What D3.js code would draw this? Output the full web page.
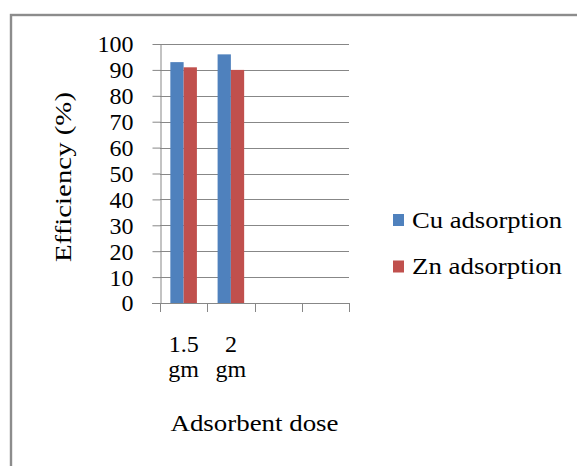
<!DOCTYPE html>
<html>
<head>
<meta charset="utf-8">
<script src="https://cdn.jsdelivr.net/npm/d3@7"></script>
</head>
<body style="margin:0">
<svg id="chart" width="577" height="466" font-family="Liberation Serif, Times New Roman, serif"></svg>
<script>
// categories (two empty slots follow the used ones)
var categories = ["1.5 gm", "2 gm", "", ""]
var seriesNames = ["Cu adsorption", "Zn adsorption"]
var cuValues = [93, 96, null, null]
var znValues = [91, 90, null, null]
var yTicks = [0, 10, 20, 30, 40, 50, 60, 70, 80, 90, 100]
var colors = ["#4F81BD", "#C0504D"]

var fontName = "Liberation Serif"
var svg = d3.select("#chart")
var gridColor = "#878787"

// outer frame (runs off the right and bottom edge)
svg.append("rect")
  .attr("x", 11).attr("y", 15)
  .attr("width", 620).attr("height", 500)
  .attr("fill", "none")
  .attr("stroke", "#8c8c8c")
  .attr("stroke-width", 2.4)

var margin = {top: 44, left: 160, right: 349, bottom: 303}

var x = d3.scaleBand()
  .domain(d3.range(categories.length))
  .range([margin.left, margin.right])
  .padding(0)

var x1 = d3.scaleBand()
  .domain(seriesNames)
  .range([x.bandwidth() * 0.219, x.bandwidth() * 0.781])

var y = d3.scaleLinear()
  .domain([0, 100])
  .range([margin.bottom, margin.top])

// gridlines
svg.append("g")
  .selectAll("line")
  .data(yTicks.filter(d => d > 0))
  .enter().append("line")
    .attr("x1", margin.left).attr("x2", margin.right)
    .attr("y1", d => Math.round(y(d)) + 0.5).attr("y2", d => Math.round(y(d)) + 0.5)
    .attr("stroke", gridColor)

// y axis
var yAxis = svg.append("g")
  .attr("transform", "translate(" + (margin.left + 0.5) + ",0)")
  .call(d3.axisLeft(y).tickValues(yTicks).tickSize(8).tickPadding(19).tickSizeOuter(0))
yAxis.attr("font-family", fontName).attr("font-size", 24)
yAxis.select(".domain").attr("stroke", gridColor)
yAxis.selectAll(".tick line").attr("stroke", gridColor)
yAxis.selectAll(".tick text")
  .attr("fill", "#000")
  .attr("font-family", fontName)
  .attr("dy", "0.33em")

// bars
var data = categories.map((c, i) => ({i: i, values: [cuValues[i], znValues[i]]}))
var groups = svg.append("g")
  .selectAll("g")
  .data(data)
  .enter().append("g")
    .attr("transform", d => "translate(" + x(d.i) + ",0)")

groups.selectAll("rect")
  .data(d => d.values.map((v, k) => ({name: seriesNames[k], value: v, k: k})).filter(e => e.value != null))
  .enter().append("rect")
    .attr("x", e => x1(e.name))
    .attr("width", x1.bandwidth())
    .attr("y", e => y(e.value))
    .attr("height", e => y(0) - y(e.value))
    .attr("fill", e => colors[e.k])

// x axis line and ticks at category boundaries
svg.append("line")
  .attr("x1", margin.left - 8).attr("x2", margin.right)
  .attr("y1", margin.bottom + 0.5).attr("y2", margin.bottom + 0.5)
  .attr("stroke", gridColor)

svg.append("g")
  .selectAll("line")
  .data(d3.range(categories.length + 1))
  .enter().append("line")
    .attr("x1", i => Math.round(margin.left + i * x.step()) + 0.5)
    .attr("x2", i => Math.round(margin.left + i * x.step()) + 0.5)
    .attr("y1", margin.bottom)
    .attr("y2", margin.bottom + 9)
    .attr("stroke", gridColor)

// category labels, wrapped on the space
var catLabels = svg.append("g")
  .selectAll("text")
  .data(data)
  .enter().append("text")
    .attr("text-anchor", "middle")
    .attr("font-family", fontName)
    .attr("font-size", 24)
    .attr("fill", "#000")

catLabels.selectAll("tspan")
  .data(d => categories[d.i] ? categories[d.i].split(" ").map(w => ({w: w, i: d.i})) : [])
  .enter().append("tspan")
    .attr("x", d => x(d.i) + x.bandwidth() / 2)
    .attr("y", (d, j) => 352 + j * 25)
    .text(d => d.w)

// axis titles
svg.append("text")
  .attr("x", (margin.left + margin.right) / 2)
  .attr("y", 431)
  .attr("text-anchor", "middle")
  .attr("font-family", fontName)
  .attr("font-size", 24)
  .attr("textLength", 168)
  .attr("lengthAdjust", "spacingAndGlyphs")
  .text("Adsorbent dose")

svg.append("text")
  .attr("transform", "translate(71," + 177 + ") rotate(-90)")
  .attr("text-anchor", "middle")
  .attr("font-family", fontName)
  .attr("font-size", 24)
  .attr("textLength", 170)
  .attr("lengthAdjust", "spacingAndGlyphs")
  .text("Efficiency (%)")

// legend
var legend = svg.append("g")
  .selectAll("g")
  .data(seriesNames)
  .enter().append("g")
    .attr("transform", (d, i) => "translate(393," + (214 + i * 46.5) + ")")

legend.append("rect")
  .attr("width", 11).attr("height", 12)
  .attr("fill", (d, i) => colors[i])

legend.append("text")
  .attr("x", 19)
  .attr("y", 13.5)
  .attr("font-family", fontName)
  .attr("font-size", 24)
  .attr("textLength", 150)
  .attr("lengthAdjust", "spacingAndGlyphs")
  .text(d => d)
</script>
</body>
</html>
